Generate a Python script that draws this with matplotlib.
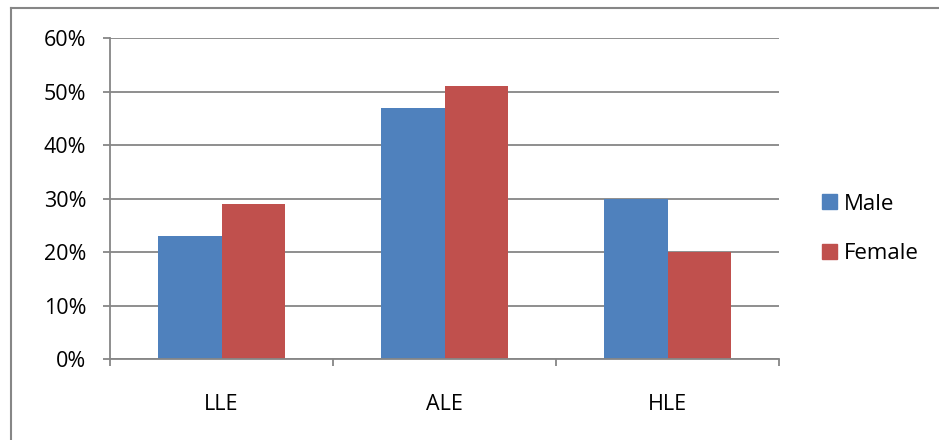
import numpy as np
import matplotlib.pyplot as plt
from matplotlib.lines import Line2D
from matplotlib.patches import Patch
from matplotlib.ticker import PercentFormatter

categories = ['LLE', 'ALE', 'HLE']
male = [23, 47, 30]
female = [29, 51, 20]
series_names = ['Male', 'Female']

blue = '#4F81BD'
red = '#C0504D'
grey = '#868686'

plt.rcParams['font.family'] = ['Open Sans', 'DejaVu Sans']
plt.rcParams['font.size'] = 15.5

W, H = 939, 440
fig = plt.figure(figsize=(W / 100, H / 100), dpi=100)
ax = fig.add_axes([110 / W, 1 - 359 / H, (779 - 110) / W, (359 - 38) / H])

x = np.arange(len(categories))
bw = 1 / 3.5
ax.bar(x - bw / 2, male, bw, color=blue, zorder=3, label=series_names[0])
ax.bar(x + bw / 2, female, bw, color=red, zorder=3, label=series_names[1])

ax.set_xlim(-0.5, len(categories) - 0.5)
ax.set_ylim(0, 60)
ax.set_yticks(np.arange(0, 61, 10))
ax.yaxis.set_major_formatter(PercentFormatter(decimals=0))
ax.set_xticks(x)
ax.set_xticklabels(categories)
ax.set_xticks(np.arange(-0.5, len(categories), 1), minor=True)
ax.tick_params(axis='x', which='major', length=0, pad=25)
ax.tick_params(axis='x', which='minor', length=5, width=1.3, color=grey)
ax.tick_params(axis='y', length=5, width=1.3, color=grey, pad=12)
ax.grid(axis='y', color=grey, linewidth=1.3, zorder=0)
for s in ['top', 'right']:
    ax.spines[s].set_visible(False)
for s in ['left', 'bottom']:
    ax.spines[s].set_color(grey)
    ax.spines[s].set_linewidth(1.3)
    ax.spines[s].set_zorder(4)

handles = [Patch(color=blue), Patch(color=red)]
fig.legend(handles, series_names, loc='center left',
           bbox_to_anchor=(802 / W, 1 - 229 / H), frameon=False,
           handlelength=0.68, handleheight=0.68, handletextpad=0.3,
           labelspacing=1.3, fontsize=16)

# outer chart border (top and left edges visible)
fig.add_artist(Line2D([10.5 / W, 1], [1 - 8.5 / H, 1 - 8.5 / H],
                      color=grey, linewidth=1.5, transform=fig.transFigure))
fig.add_artist(Line2D([10.5 / W, 10.5 / W], [0, 1 - 8.5 / H],
                      color=grey, linewidth=1.5, transform=fig.transFigure))

fig.savefig('out.png', dpi=100)
